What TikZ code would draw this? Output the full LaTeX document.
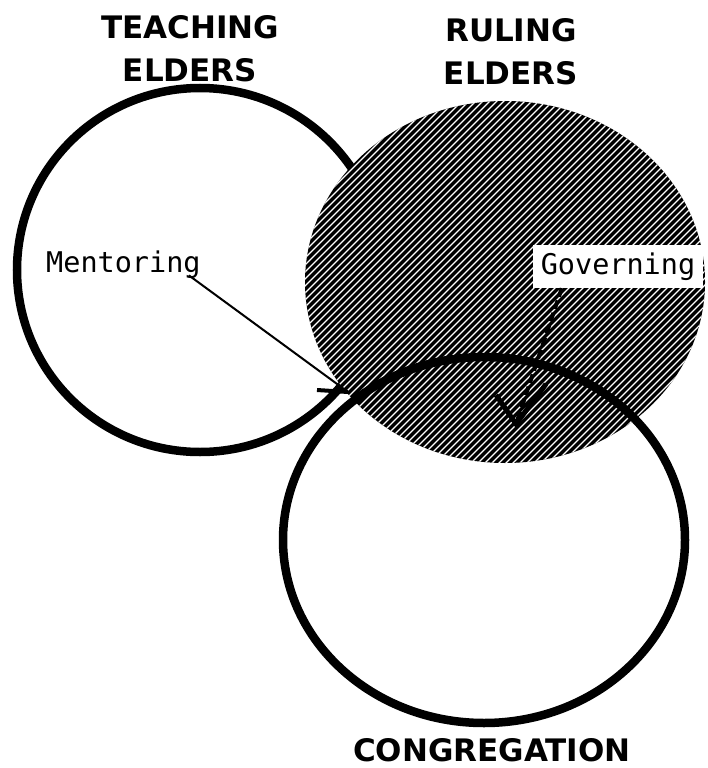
\documentclass[tikz,border=0pt]{standalone}
\usepackage{fontspec}
\setmainfont{DejaVu Sans}
\newfontfamily\labelfont{DejaVu Sans Mono}
\usetikzlibrary{calc}
\tikzset{
  ring/.style={draw=black, line width=8.5pt},
  title/.style={font=\bfseries\fontsize{31}{43}\selectfont, align=center, inner sep=0pt},
  lbl/.style={font=\labelfont\fontsize{28.5}{30}\selectfont, inner sep=0pt},
  connector/.style={draw=black, line width=2pt},
  govline/.style={draw=black, line width=4pt, dash pattern=on 9pt off 4pt},
}
\begin{document}
\begin{tikzpicture}[x=1pt, y=-1pt]
\useasboundingbox (0,0) rectangle (707,768);
\fill[white] (0,0) rectangle (707,768);

% Teaching elders circle
\draw[ring] (200,270) ellipse [x radius=183, y radius=182];

% Ruling elders hatched circle
\fill[black] (505,282) ellipse [x radius=200, y radius=181];
\begin{scope}
  \clip (505,282) ellipse [x radius=200, y radius=181];
  \foreach \c in {500,507,...,1080} {
    \draw[white, line width=1.2pt] (\c-80,80) -- (\c-480,480);
  }
\end{scope}

% Congregation circle
\draw[ring] (484,540) ellipse [x radius=201, y radius=183];

% Titles
\node[title] (teach) at (190,49) {TEACHING\\ELDERS};
\node[title] (rule) at (511,52) {RULING\\ELDERS};
\node[title] (cong) at (492,750) {CONGREGATION};

% Labels
\node[lbl, anchor=base west] (ment) at (46,272) {Mentoring};
\node[lbl, fill=white, minimum width=170pt, minimum height=43pt, inner sep=0pt] (gov) at (618,266.5) {Governing};

% Mentoring arrow
\coordinate (mtip) at (348,392);
\coordinate (mbarb) at (317,390);
\draw[connector] ($(ment.south east)+(-12,-3)$) -- (mtip);
\draw[line width=4pt] (mtip) -- (mbarb);

% Governing arrow
\coordinate (gtip) at (516,424);
\coordinate (gbarbL) at (496,395);
\coordinate (gbarbR) at (546,384);
\draw[govline] ($(gov.south west)!0.17!(gov.south east)$) -- (gtip);
\draw[line width=5pt, line join=miter] (gbarbL) -- (gtip) -- (gbarbR);
\end{tikzpicture}
\end{document}
